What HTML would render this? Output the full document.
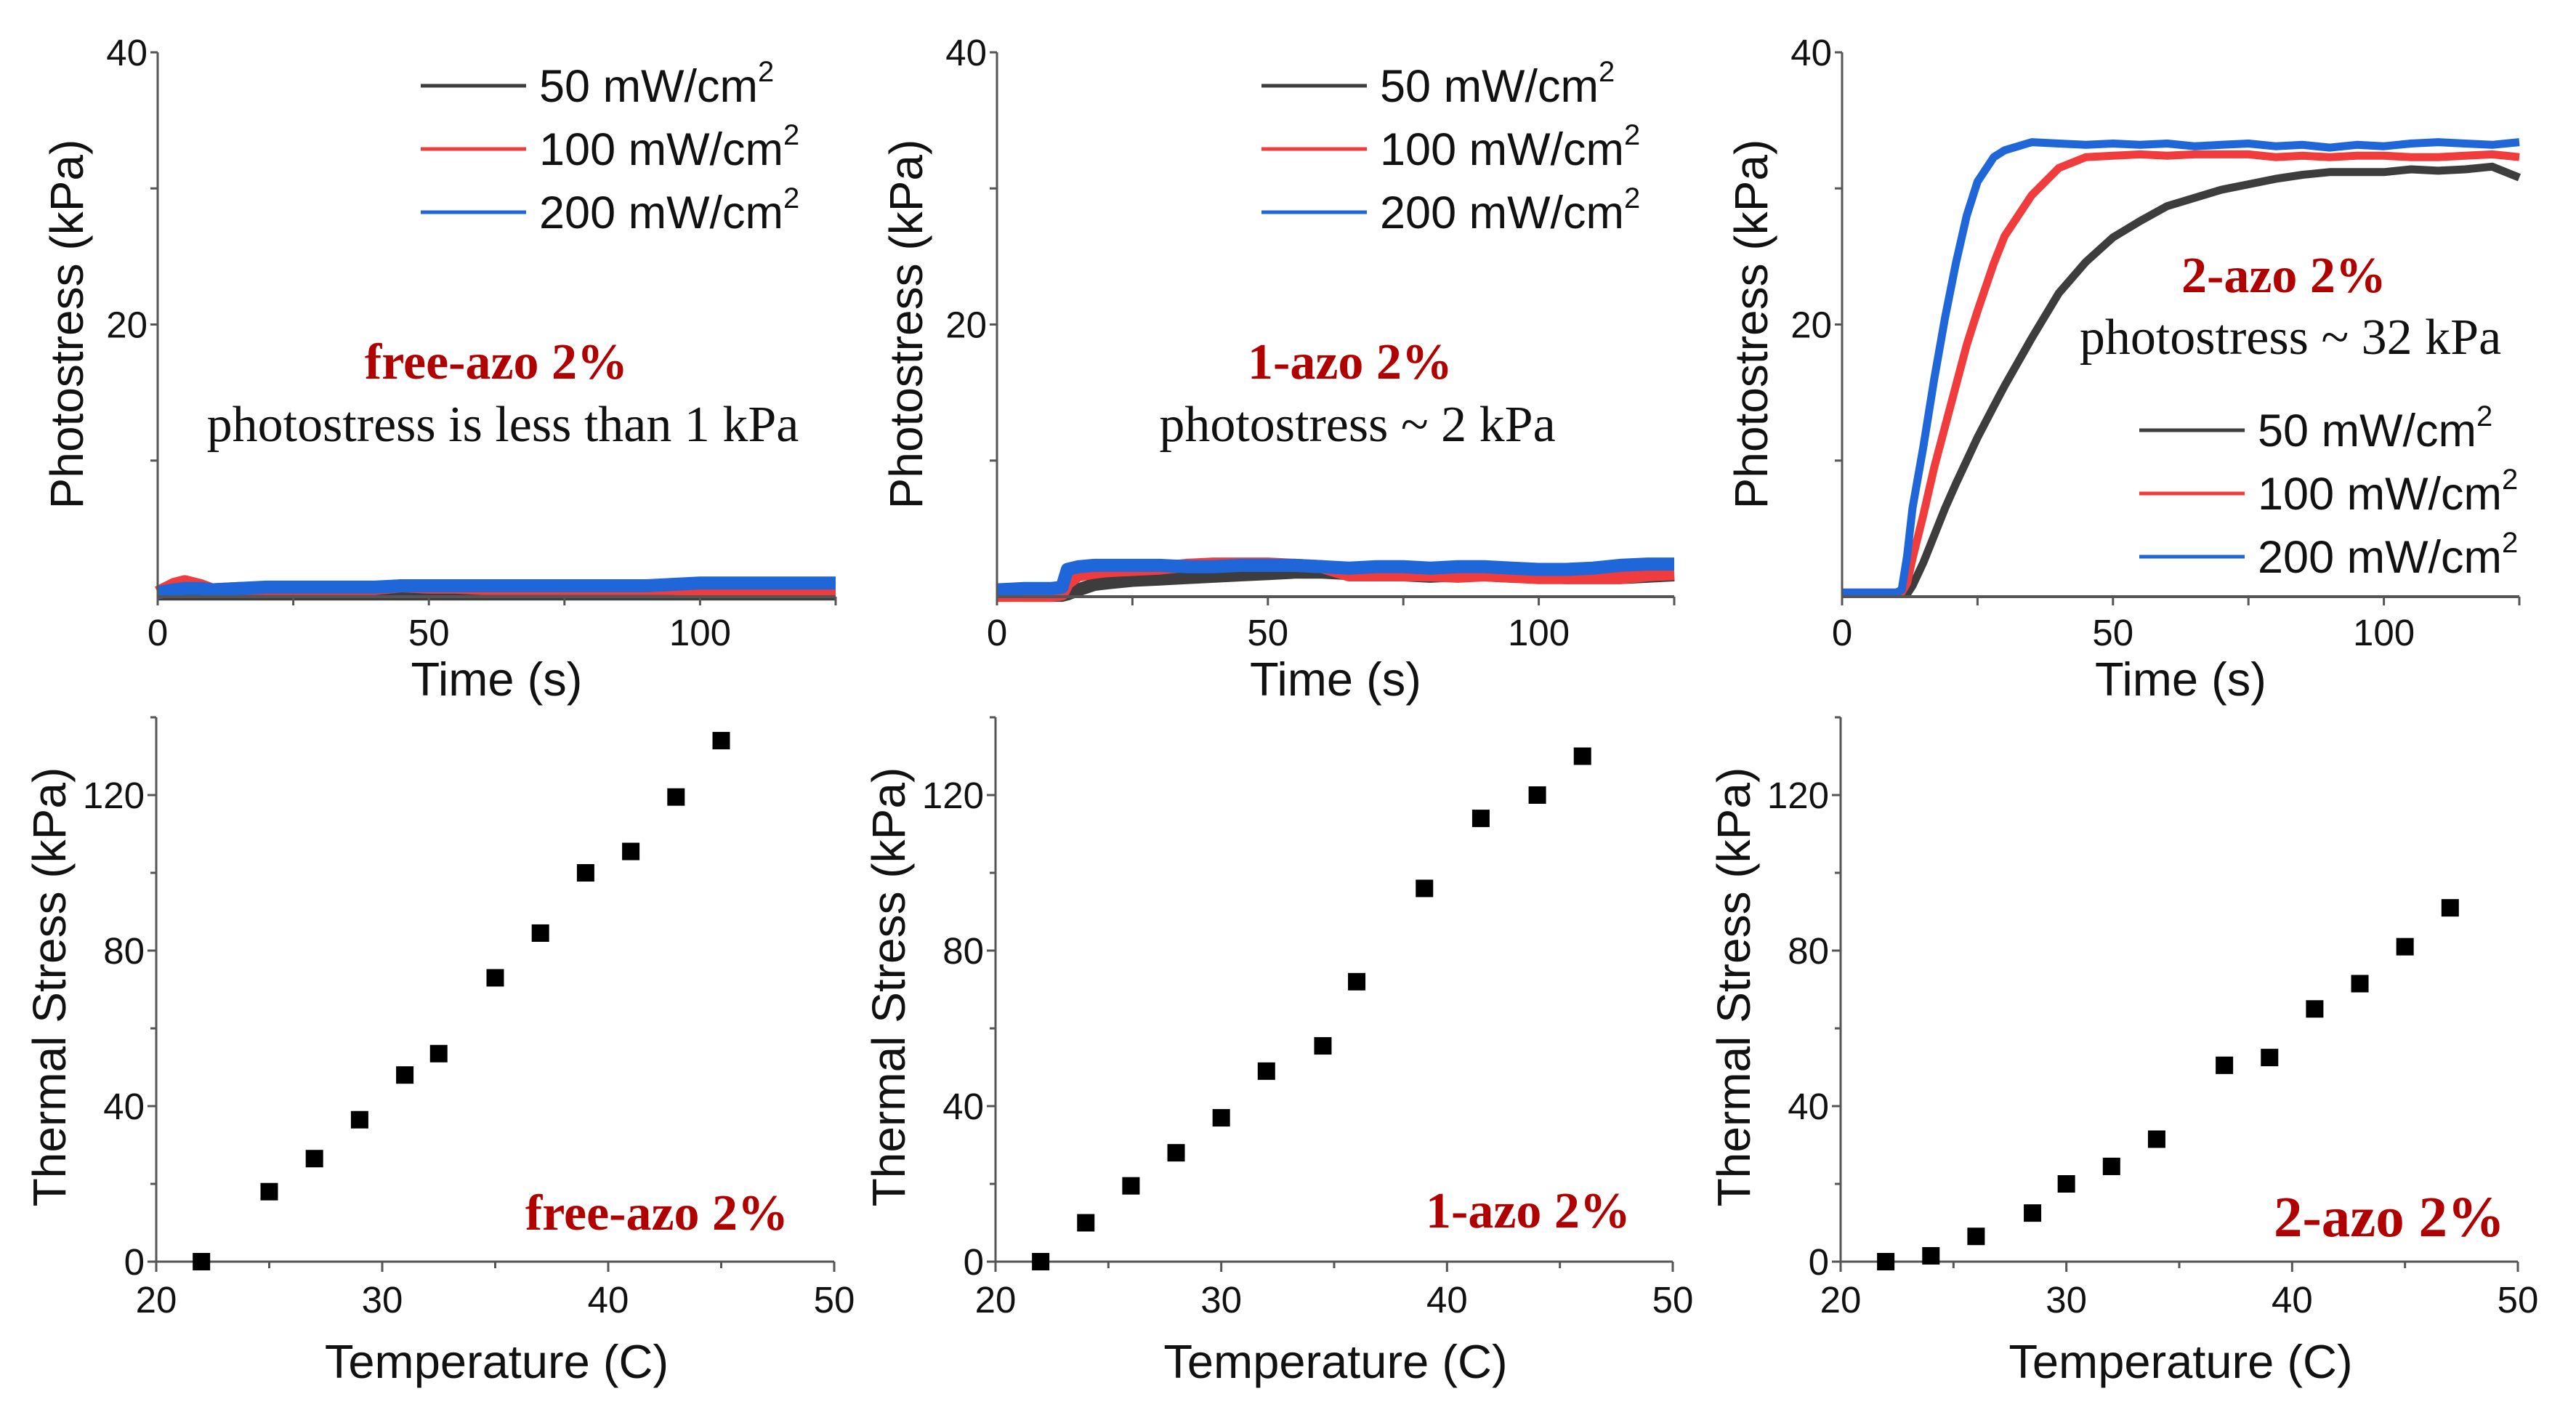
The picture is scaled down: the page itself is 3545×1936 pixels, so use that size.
<!DOCTYPE html>
<html><head><meta charset="utf-8"><style>
html,body{margin:0;padding:0;background:#fff;}
svg{display:block;}
text{font-family:"Liberation Sans",Arial,sans-serif;fill:#111;}
.serif{font-family:"Liberation Serif","Times New Roman",serif;}
</style></head><body>
<svg id="fig" width="3545" height="1936" viewBox="0 0 3545 1936" xmlns="http://www.w3.org/2000/svg"></svg>
<script>
// ---------- Data ----------
const legendLabels = ["50 mW/cm", "100 mW/cm", "200 mW/cm"];
const seriesColors = ["#3d3d3d", "#f03c3c", "#1f66d8"];
const photoTicks = [0, 20, 40];
const timeTicks = [0, 50, 100];
const tempTicks = [20, 30, 40, 50];
const stressTicks = [0, 40, 80, 120];

// Panel 1 (free-azo)
const p1Times = [0,3,5,8,10,15,20,25,30,35,40,45,50,55,60,65,70,75,80,85,90,95,100,105,110,115,120,125];
const p1Black = [0.2,0.2,0.2,0.2,0.2,0.2,0.2,0.2,0.2,0.2,0.2,0.2,0.2,0.2,0.2,0.2,0.2,0.2,0.2,0.2,0.2,0.2,0.2,0.2,0.2,0.2,0.2,0.2];
const p1Red   = [0.3,0.9,1.1,0.8,0.5,0.6,0.6,0.6,0.6,0.6,0.6,0.8,0.7,0.7,0.6,0.6,0.6,0.6,0.6,0.6,0.6,0.6,0.5,0.5,0.5,0.5,0.5,0.5];
const p1Blue  = [0.3,0.5,0.6,0.6,0.5,0.6,0.7,0.7,0.7,0.7,0.7,0.8,0.8,0.8,0.8,0.8,0.8,0.8,0.8,0.8,0.8,0.9,1.0,1.0,1.0,1.0,1.0,1.0];
// Panel 2 (1-azo)
const p2Times = [0,5,10,12,13,15,18,20,25,30,35,40,45,50,55,60,65,70,75,80,85,90,95,100,105,110,115,120,125];
const p2Black = [0.1,0.1,0.1,0.1,0.2,0.5,0.9,1.0,1.2,1.3,1.4,1.5,1.6,1.7,1.8,1.8,1.7,1.6,1.6,1.5,1.6,1.6,1.5,1.5,1.4,1.4,1.4,1.5,1.6];
const p2Red   = [0.1,0.1,0.1,0.2,1.0,1.6,1.8,1.9,2.0,2.1,2.3,2.4,2.4,2.4,2.3,2.2,1.6,1.6,1.6,1.6,1.5,1.6,1.5,1.4,1.4,1.4,1.4,1.6,1.7];
const p2Blue  = [0.5,0.6,0.6,0.7,2.0,2.2,2.3,2.3,2.3,2.3,2.2,2.2,2.3,2.3,2.3,2.2,2.1,2.2,2.2,2.1,2.2,2.2,2.1,2.0,2.0,2.1,2.3,2.4,2.4];
// Panel 3 (2-azo)
const p3Times = [0,5,10,11,12,13,15,17,19,21,23,25,28,30,35,40,45,50,55,60,65,70,75,80,85,90,95,100,105,110,115,120,125];
const p3Black = [0.3,0.3,0.3,0.2,0.2,0.8,2.5,4.5,6.5,8.3,10.0,11.7,14.0,15.5,19.0,22.3,24.6,26.4,27.6,28.7,29.3,29.9,30.3,30.7,31.0,31.2,31.2,31.2,31.4,31.3,31.4,31.6,30.8];
const p3Red   = [0.3,0.3,0.3,0.3,1.0,2.8,6.0,9.5,12.5,15.5,18.5,21.0,24.5,26.5,29.5,31.5,32.3,32.4,32.5,32.4,32.5,32.5,32.5,32.3,32.4,32.3,32.4,32.4,32.3,32.3,32.4,32.5,32.3];
const p3Blue  = [0.3,0.3,0.3,0.5,3.0,6.5,11.0,16.0,20.5,24.5,28.0,30.5,32.3,32.8,33.4,33.3,33.2,33.3,33.2,33.3,33.1,33.2,33.3,33.1,33.2,33.0,33.2,33.1,33.3,33.4,33.3,33.2,33.4];

// Thermal stress scatter
const t1Temp = [22,25,27,29,31,32.5,35,37,39,41,43,45];
const t1Stress = [0,18,26.5,36.5,48,53.5,73,84.5,100,105.5,119.5,134];
const t2Temp = [22,24,26,28,30,32,34.5,36,39,41.5,44,46];
const t2Stress = [0,10,19.5,28,37,49,55.5,72,96,114,120,130];
const t3Temp = [22,24,26,28.5,30,32,34,37,39,41,43,45,47];
const t3Stress = [0,1.5,6.5,12.5,20,24.5,31.5,50.5,52.5,65,71.5,81,91];

// ---------- Drawing ----------
const NS = "http://www.w3.org/2000/svg";
const svg = document.getElementById("fig");
function mk(tag, attrs, parent){
  const e = document.createElementNS(NS, tag);
  for (const k in attrs) e.setAttribute(k, attrs[k]);
  (parent||svg).appendChild(e);
  return e;
}
const AX = "#555";
const panelsX = [[217,1150],[1372,2304],[2535,3467]];

function linScale(d0,d1,r0,r1){ return v => r0 + (v-d0)/(d1-d0)*(r1-r0); }

function drawPhoto(pi, times, series, ann, legendPos){
  const [x0,x1] = panelsX[pi];
  const sx = linScale(0,125,x0,x1);
  const sy = linScale(0,40,821,72);
  const g = mk("g",{});
  
  
  series.forEach((vals, si) => {
    const pts = times.map((t,i)=> sx(t).toFixed(1)+","+sy(vals[i]).toFixed(1)).join(" ");
    const pl = mk("polyline",{points:pts, fill:"none", stroke:seriesColors[si], "stroke-width": (pi===2?11:18), "stroke-linejoin":"round"}, g);
    
    
  });
  const ya = mk("line",{x1:x0,y1:72,x2:x0,y2:sy(0)+10,stroke:AX,"stroke-width":3},g);
  
  
  const xa = mk("line",{x1:x0,y1:sy(0),x2:x1,y2:sy(0),stroke:AX,"stroke-width":4},g);
  
  
  [10,20,30,40].forEach(v=> mk("line",{x1:x0-10,y1:sy(v),x2:x0,y2:sy(v),stroke:AX,"stroke-width":3},g));
  [0,25,50,75,100,125].forEach(v=> mk("line",{x1:sx(v),y1:sy(0),x2:sx(v),y2:sy(0)+12,stroke:AX,"stroke-width":3},g));
  photoTicks.filter(v=>v>0).forEach(v=>{
    const t = mk("text",{x:x0-14,y:sy(v)+18,"font-size":51,"text-anchor":"end"},g);
    t.textContent = v;
    
    
  });
  timeTicks.forEach(v=>{
    const t = mk("text",{x:sx(v),y:888,"font-size":51,"text-anchor":"middle"},g);
    t.textContent = v;
    
    
  });
  const xt = mk("text",{x:(x0+x1)/2,y:957,"font-size":65,"text-anchor":"middle"},g);
  xt.textContent = "Time (s)";
  
  
  const ytx = x0-125, yty = 446;
  const yt = mk("text",{x:ytx,y:yty,"font-size":64,"text-anchor":"middle",transform:`rotate(-90 ${ytx} ${yty})`,dy:22},g);
  yt.textContent = "Photostress (kPa)";
  
  
  legendLabels.forEach((lab,i)=>{
    const ly = legendPos[1] + i*87;
    const ln = mk("line",{x1:legendPos[0],y1:ly,x2:legendPos[0]+145,y2:ly,stroke:seriesColors[i],"stroke-width":5},g);
    
    
    const t = mk("text",{x:legendPos[0]+163,y:ly+22,"font-size":63},g);
    t.textContent = lab;
    const sup = mk("tspan",{"font-size":40,dy:-28},t);
    sup.textContent = "2";
    
    
  });
  const a1 = mk("text",{x:ann[0],y:ann[1],"font-size":70,"font-weight":"bold","text-anchor":"middle",class:"serif",style:"fill:#b00000"},g);
  a1.textContent = ann[2];
  
  
  const a2 = mk("text",{x:ann[3],y:ann[4],"font-size":70,"text-anchor":"middle",class:"serif"},g);
  a2.textContent = ann[5];
  
  
}

function drawThermal(pi, temps, stresses, ann){
  const [x0,x1] = panelsX[pi];
  const sx = linScale(20,50,x0-2,x1-2);
  const sy = linScale(0,140,1736,987);
  const g = mk("g",{});
  
  
  const ya = mk("line",{x1:sx(20),y1:987,x2:sx(20),y2:1736,stroke:AX,"stroke-width":3},g);
  
  
  const xa = mk("line",{x1:sx(20),y1:1736,x2:sx(50),y2:1736,stroke:AX,"stroke-width":3},g);
  
  
  [0,20,40,60,80,100,120,140].forEach(v=> mk("line",{x1:sx(20)-(v%40===0?12:8),y1:sy(v),x2:sx(20),y2:sy(v),stroke:AX,"stroke-width":3},g));
  [20,25,30,35,40,45,50].forEach(v=> mk("line",{x1:sx(v),y1:1736,x2:sx(v),y2:1736+(v%10===0?14:9),stroke:AX,"stroke-width":3},g));
  stressTicks.forEach(v=>{
    const t = mk("text",{x:sx(20)-16,y:sy(v)+18,"font-size":51,"text-anchor":"end"},g);
    t.textContent = v;
    
    
  });
  tempTicks.forEach(v=>{
    const t = mk("text",{x:sx(v),y:1806,"font-size":51,"text-anchor":"middle"},g);
    t.textContent = v;
    
    
  });
  const xt = mk("text",{x:(x0+x1)/2,y:1896,"font-size":65,"text-anchor":"middle"},g);
  xt.textContent = "Temperature (C)";
  
  
  const ytx = x0-149, yty = 1358;
  const yt = mk("text",{x:ytx,y:yty,"font-size":64,"text-anchor":"middle",transform:`rotate(-90 ${ytx} ${yty})`,dy:22},g);
  yt.textContent = "Thermal Stress (kPa)";
  
  
  temps.forEach((tv,i)=>{
    const r = mk("rect",{x:sx(tv)-12,y:sy(stresses[i])-12,width:24,height:24,fill:"#000"},g);
    
    
  });
  const a = mk("text",{x:ann[0],y:ann[1],"font-size":ann[3],"font-weight":"bold","text-anchor":"middle",class:"serif",style:"fill:#b00000"},g);
  a.textContent = ann[2];
  
  
}

drawPhoto(0, p1Times, [p1Black,p1Red,p1Blue], [683,521,"free-azo 2%",692,607,"photostress is less than 1 kPa"], [579,118]);
drawPhoto(1, p2Times, [p2Black,p2Red,p2Blue], [1858,521,"1-azo 2%",1868,607,"photostress ~ 2 kPa"], [1736,118]);
drawPhoto(2, p3Times, [p3Black,p3Red,p3Blue], [3143,402,"2-azo 2%",3152,487,"photostress ~ 32 kPa"], [2944,592]);
drawThermal(0, t1Temp, t1Stress, [904,1692,"free-azo 2%",70]);
drawThermal(1, t2Temp, t2Stress, [2103,1689,"1-azo 2%",70]);
drawThermal(2, t3Temp, t3Stress, [3288,1701,"2-azo 2%",79]);
</script>
</body></html>
